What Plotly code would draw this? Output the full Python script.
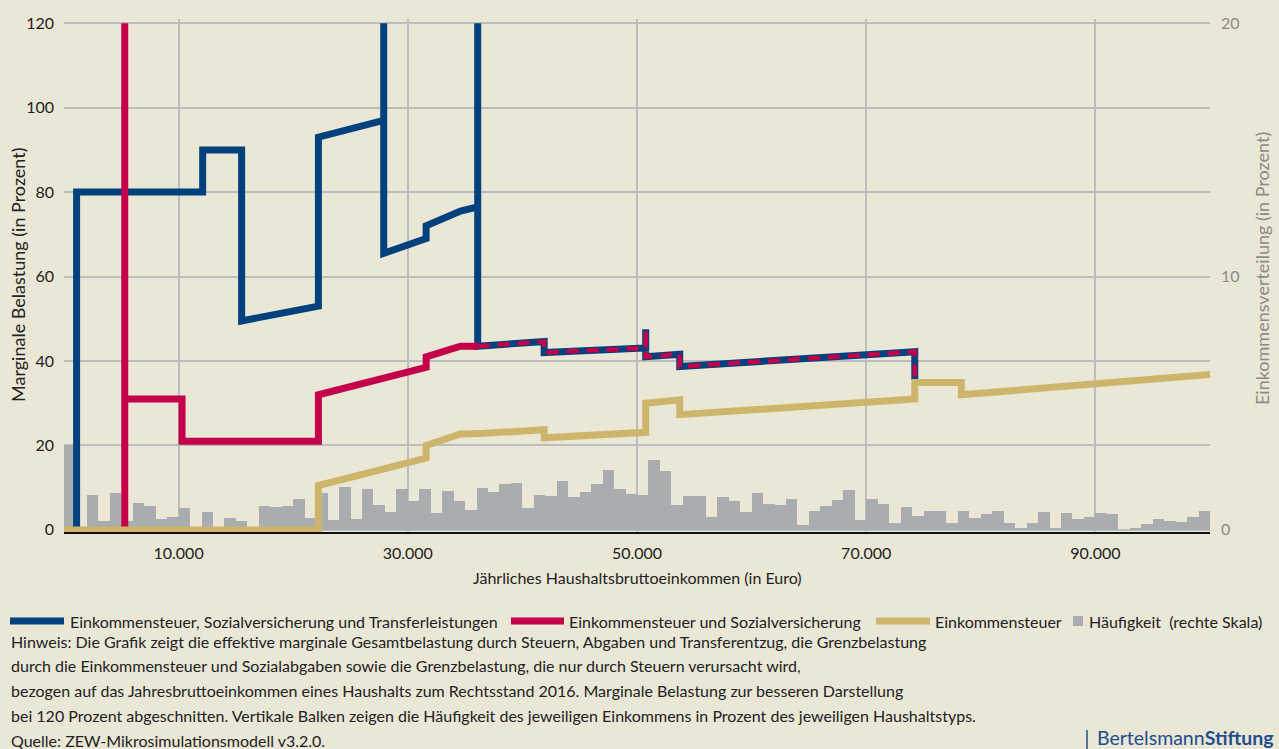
import plotly.graph_objects as go

# Häufigkeit (rechte Skala), 1.000-Euro-Klassen von 0 bis 100.000
bin_start = list(range(0, 100000, 1000))
freq = [
    3.35, 0.0, 1.38, 0.36, 1.47, 0.36, 1.08, 0.95, 0.43, 0.51,
    0.87, 0.0, 0.71, 0.0, 0.47, 0.36, 0.0, 0.95, 0.91, 0.95,
    1.22, 0.47, 1.47, 0.39, 1.70, 0.43, 1.62, 0.99, 0.71, 1.62,
    1.14, 1.62, 0.67, 1.54, 1.14, 0.79, 1.66, 1.50, 1.81, 1.85,
    0.87, 1.38, 1.34, 1.93, 1.30, 1.50, 1.81, 2.37, 1.62, 1.42,
    1.38, 2.76, 2.33, 0.99, 1.34, 1.34, 0.51, 1.30, 1.14, 0.71,
    1.46, 1.03, 0.99, 1.22, 0.20, 0.75, 0.95, 1.18, 1.58, 0.39,
    1.22, 1.03, 0.28, 0.91, 0.55, 0.75, 0.75, 0.28, 0.75, 0.47,
    0.63, 0.75, 0.28, 0.04, 0.28, 0.71, 0.04, 0.67, 0.43, 0.51,
    0.67, 0.63, 0.0, 0.08, 0.24, 0.43, 0.36, 0.32, 0.51, 0.75,
]
bin_mid = [b + 500 for b in bin_start]

# Einkommensteuer, Sozialversicherung und Transferleistungen
blue_x = [1100, 1100, 12100, 12100, 15500, 15500, 22200, 22200, 27900, 27900,
          27900, 31600, 31600, 34600, 36100, 36100, 36100, 41900, 41900, 50760,
          50760, 50760, 53730, 53730, 74240, 74240]
blue_y = [0, 80, 80, 90, 90, 49.5, 53, 93, 97, 120,
          65.5, 69, 72, 75.5, 76.5, 120, 43.5, 44.6, 42.0, 43.1,
          47.5, 41.0, 41.6, 38.7, 42.2, 35.5]

# Einkommensteuer und Sozialversicherung
red_x = [5300, 5300, 5300, 10300, 10300, 22200, 22200, 31600, 31600, 34600, 36100]
red_y = [0, 120, 31, 31, 21, 21, 32, 38.5, 41, 43.5, 43.5]
red_shared_x = [36100, 41900, 41900, 50760, 50760, 50760, 53730, 53730, 74240, 74240]
red_shared_y = [43.5, 44.6, 42.0, 43.1, 47.5, 41.0, 41.6, 38.7, 42.2, 35.5]

# Einkommensteuer
gold_x = [0, 22200, 22200, 31600, 31600, 34600, 36100, 41900, 41900, 50760,
          50760, 53730, 53730, 74240, 74240, 78300, 78300, 100000]
gold_y = [0, 0, 10.5, 17, 20, 22.7, 22.8, 23.7, 21.8, 23.1,
          30.0, 30.8, 27.3, 31.0, 34.9, 34.9, 32.0, 36.8]

x_ticks = [10000, 30000, 50000, 70000, 90000]
x_ticktext = ["10.000", "30.000", "50.000", "70.000", "90.000"]

legend_names = [
    "Einkommensteuer, Sozialversicherung und Transferleistungen",
    "Einkommensteuer und Sozialversicherung",
    "Einkommensteuer",
    "Häufigkeit  (rechte Skala)",
]

notes = [
    "Hinweis: Die Grafik zeigt die effektive marginale Gesamtbelastung durch Steuern, Abgaben und Transferentzug, die Grenzbelastung",
    "durch die Einkommensteuer und Sozialabgaben sowie die Grenzbelastung, die nur durch Steuern verursacht wird,",
    "bezogen auf das Jahresbruttoeinkommen eines Haushalts zum Rechtsstand 2016. Marginale Belastung zur besseren Darstellung",
    "bei 120 Prozent abgeschnitten. Vertikale Balken zeigen die Häufigkeit des jeweiligen Einkommens in Prozent des jeweiligen Haushaltstyps.",
    "Quelle: ZEW-Mikrosimulationsmodell v3.2.0.",
]

BG = "#EAE7D6"
BLUE = "#00417E"
RED = "#C5004A"
GOLD = "#CDB66B"
GREY = "#AAADB0"
TEXT = "#222222"
FONT = "Lato"

W, H = 1279, 749
L, R, T, B = 64, 69, 19, 217
plot_h = H - T - B
plot_w = W - L - R


def py(px):
    # pixel row -> paper y
    return (H - B - px) / plot_h


def pxx(px):
    return (px - L) / plot_w


fig = go.Figure()

fig.add_trace(go.Bar(x=bin_mid, y=freq, width=1000, marker_color=GREY,
                     marker_line_width=0, name=legend_names[3], yaxis="y"))
fig.add_trace(go.Scatter(x=blue_x, y=blue_y, mode="lines", yaxis="y2",
                         line=dict(color=BLUE, width=7), name=legend_names[0]))
fig.add_trace(go.Scatter(x=red_x, y=red_y, mode="lines", yaxis="y2",
                         line=dict(color=RED, width=7), name=legend_names[1]))
fig.add_trace(go.Scatter(x=red_shared_x, y=red_shared_y, mode="lines", yaxis="y2",
                         line=dict(color=RED, width=4.5, dash="12px,8px"),
                         name=legend_names[1]))
fig.add_trace(go.Scatter(x=gold_x, y=gold_y, mode="lines", yaxis="y2",
                         line=dict(color=GOLD, width=7), name=legend_names[2]))

ymin, ymax = -0.5, 121

fig.update_layout(
    width=W, height=H,
    margin=dict(l=L, r=R, t=T, b=B, autoexpand=False),
    paper_bgcolor=BG, plot_bgcolor=BG,
    font=dict(family=FONT, size=16, color=TEXT),
    bargap=0,
    showlegend=False,
    xaxis=dict(range=[0, 100000], tickvals=x_ticks, ticktext=x_ticktext,
               showgrid=True, gridcolor="#BDBDBD", gridwidth=1.5,
               showline=True, linecolor="#111111", linewidth=2,
               ticks="", tickfont=dict(size=16, color=TEXT),
               ticklabelstandoff=6, zeroline=False, automargin=False),
    yaxis=dict(side="right", range=[ymin / 6, ymax / 6], tickvals=[0, 10, 20],
               showgrid=False, zeroline=False, ticks="", automargin=False,
               ticklabelstandoff=10, tickfont=dict(size=16, color="#8A8A8A")),
    yaxis2=dict(overlaying="y", side="left", range=[ymin, ymax],
                tickvals=[0, 20, 40, 60, 80, 100, 120],
                showgrid=True, gridcolor="#BDBDBD", gridwidth=1.5,
                zeroline=False, ticks="", automargin=False, ticklabelstandoff=9,
                tickfont=dict(size=16, color=TEXT)),
)

annotations = [
    dict(text="Marginale Belastung (in Prozent)", textangle=-90, x=pxx(18), y=py(275),
         font=dict(size=18, color=TEXT)),
    dict(text="Einkommensverteilung (in Prozent)", textangle=-90, x=pxx(1262), y=py(269),
         font=dict(size=18, color="#8A8A8A")),
    dict(text="Jährliches Haushaltsbruttoeinkommen (in Euro)", x=pxx(637), y=py(578),
         font=dict(size=16, color=TEXT)),
]

# Legende (Zeile unter der Grafik)
legend_row = 621
legend_items = [
    (BLUE, 10, 64, 68),
    (RED, 511, 564, 567),
    (GOLD, 876, 930, 933),
]
for (color, s0, s1, tx), name in zip(legend_items, legend_names[:3]):
    fig.add_shape(type="line", xref="paper", yref="paper",
                  x0=pxx(s0), x1=pxx(s1), y0=py(legend_row), y1=py(legend_row),
                  line=dict(color=color, width=7))
    annotations.append(dict(text=name, x=pxx(tx), y=py(legend_row), xanchor="left",
                            font=dict(size=16, color=TEXT)))
fig.add_shape(type="rect", xref="paper", yref="paper",
              x0=pxx(1073), x1=pxx(1083), y0=py(legend_row + 5), y1=py(legend_row - 5),
              fillcolor=GREY, line_width=0)
annotations.append(dict(text=legend_names[3], x=pxx(1087), y=py(legend_row), xanchor="left",
                        font=dict(size=16, color=TEXT)))

for i, line in enumerate(notes):
    annotations.append(dict(text=line, x=pxx(9), y=py(641 + i * 24.8), xanchor="left",
                            font=dict(size=16, color=TEXT)))
annotations.append(dict(text="Bertelsmann<b>Stiftung</b>", x=pxx(1276), y=py(738),
                        xanchor="right", font=dict(size=19.5, color="#1F4E8F")))
for a in annotations:
    a.setdefault("xanchor", "center")
    a.update(xref="paper", yref="paper", yanchor="middle", showarrow=False)
fig.update_layout(annotations=annotations)

fig.add_shape(type="line", xref="paper", yref="paper",
              x0=pxx(1087), x1=pxx(1087), y0=py(730), y1=py(749),
              line=dict(color="#1F4E8F", width=1.5))

fig.write_html("out.html", config={"displayModeBar": False},
               post_script="document.body.style.margin='0px';")
